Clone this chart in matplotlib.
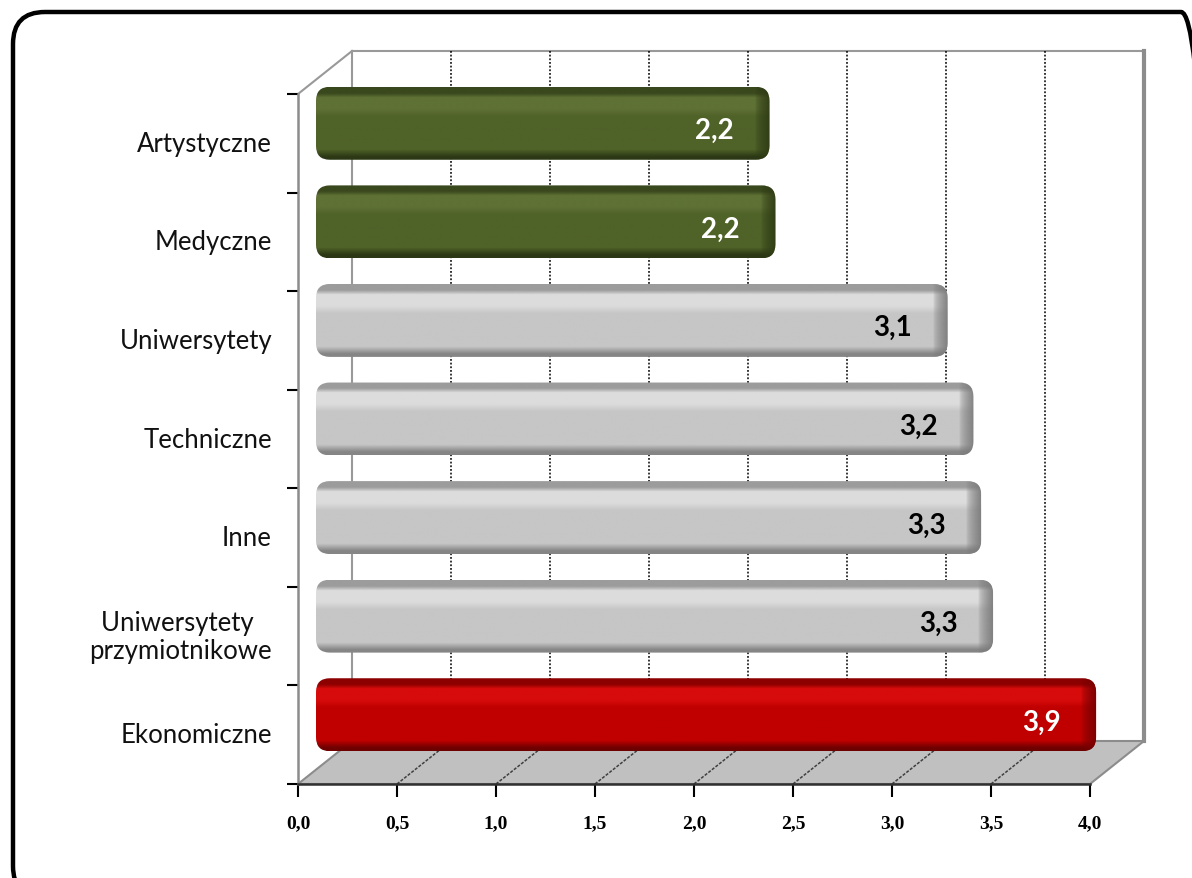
import numpy as np
import matplotlib
matplotlib.use("Agg")
import matplotlib.pyplot as plt
from matplotlib.patches import FancyBboxPatch, Polygon
from matplotlib.colors import to_rgb
import matplotlib.transforms as mtransforms

# data (top to bottom)
categories = ["Artystyczne", "Medyczne", "Uniwersytety", "Techniczne", "Inne",
              "Uniwersytety \nprzymiotnikowe", "Ekonomiczne"]
values = [2.21, 2.24, 3.11, 3.24, 3.28, 3.34, 3.86]
groups = ["green", "green", "gray", "gray", "gray", "gray", "red"]
xticks = [0.0, 0.5, 1.0, 1.5, 2.0, 2.5, 3.0, 3.5, 4.0]
title = "Typ uczelni"

# colour profiles: top-dark, light band, main, bottom-dark, cap
palette = {
    "green": ["#3a481d", "#5f7135", "#4f6228", "#2c3815", "#2f3b15"],
    "gray": ["#9c9c9c", "#dcdcdc", "#c6c6c6", "#858585", "#7a7a7a"],
    "red": ["#8c0000", "#d70b0b", "#c00000", "#6e0000", "#780000"],
}
label_color = {"green": "white", "gray": "black", "red": "white"}

W, H = 1192, 879
fig = plt.figure(figsize=(W / 100, H / 100), dpi=100)

# front plane of the 3D box in pixels
L, R, T, B = 298, 1090, 95, 785
ax = fig.add_axes([L / W, 1 - B / H, (R - L) / W, (B - T) / H])
n = len(categories)
ax.set_xlim(0, 4)
ax.set_ylim(n - 0.5, -0.5)
ax.set_autoscale_on(False)

px = (R - L) / 4.0       # pixels per x unit
py = (B - T) / n         # pixels per category
DX, DY = 54 / px, 43 / py  # depth of the box
bx0 = 18 / px             # bar front face start
boff = 20 / py            # bars sit higher than band centre
bh = 0.74
cap = 0.08

# outer rounded frame
frame = FancyBboxPatch((13, -20), 1200, 20 + H - 13,
                       boxstyle="round,pad=0,rounding_size=32",
                       transform=mtransforms.IdentityTransform(),
                       fc="none", ec="black", lw=3.2)
fig.patches.append(frame)
fig.text(595 / W, 1 + 4 / H, title, ha="center", va="baseline",
         fontsize=12, fontweight="bold", family="Lato")

# back wall
top_b, bot_b = -0.5 - DY, n - 0.5 - DY
ax.plot([DX, 4 + DX], [top_b, top_b], color="#999999", lw=1.5, clip_on=False, zorder=1)
ax.plot([DX, DX], [top_b, bot_b], color="#999999", lw=1.5, clip_on=False, zorder=1)
ax.plot([4 + DX, 4 + DX], [top_b, bot_b], color="#8c8c8c", lw=3, clip_on=False, zorder=1)
for x in xticks[1:-1]:
    ax.plot([x + DX, x + DX], [top_b, bot_b], color="black", lw=1.1,
            ls=(0, (1.2, 1.2)), clip_on=False, zorder=1)

# left wall top edge
ax.plot([0, DX], [-0.5, top_b], color="#999999", lw=1.5, clip_on=False, zorder=1)

# floor
floor = Polygon([(0, n - 0.5), (4, n - 0.5), (4 + DX, bot_b), (DX, bot_b)],
                closed=True, fc="#c0c0c0", ec="#8c8c8c", lw=1.5, clip_on=False, zorder=1)
ax.add_patch(floor)
for x in xticks[1:-1]:
    ax.plot([x, x + DX], [n - 0.5, bot_b], color="#404040", lw=1.1,
            ls=(0, (2, 1)), clip_on=False, zorder=1.5)


def profile(cols, stops, nrow=80):
    rgb = np.array([to_rgb(c) for c in cols])
    t = np.linspace(0, 1, nrow)
    return np.stack([np.interp(t, stops, rgb[:, k]) for k in range(3)], axis=1)


# bars
for i, (v, g) in enumerate(zip(values, groups)):
    c = palette[g]
    yc = i - boff
    y0, y1 = yc - bh / 2, yc + bh / 2
    x0, x1 = bx0, bx0 + v + cap
    patch = FancyBboxPatch((x0, y0), x1 - x0, bh,
                           boxstyle="round,pad=0,rounding_size=0.07",
                           mutation_aspect=px / py,
                           fc="none", ec="none", zorder=3, clip_on=False)
    ax.add_patch(patch)
    col = profile([c[0], c[0], c[1], c[1], c[2], c[2], c[3], c[3]],
                  [0, 0.08, 0.14, 0.3, 0.4, 0.86, 0.96, 1.0])
    img = np.repeat(col[:, None, :], 4, axis=1)
    im = ax.imshow(img, extent=(x0, x1, y1, y0), aspect="auto",
                   interpolation="bilinear", zorder=3)
    im.set_clip_box(fig.bbox)
    im.set_clip_path(patch)
    # darker rounded end cap
    capw = 0.075
    ov = np.zeros((2, 30, 4))
    ov[..., :3] = to_rgb(c[4])
    ov[..., 3] = np.linspace(0.0, 0.85, 30) ** 0.6
    im2 = ax.imshow(ov, extent=(x1 - capw, x1, y1, y0), aspect="auto",
                    interpolation="bilinear", zorder=3.1)
    im2.set_clip_box(fig.bbox)
    im2.set_clip_path(patch)
    ax.text(bx0 + v - 0.1, yc + 0.07, f"{v:.1f}".replace(".", ","),
            ha="right", va="center", fontsize=20, fontweight="bold",
            family="Lato", color=label_color[g], zorder=5)

ax.set_xlim(0, 4)
ax.set_ylim(n - 0.5, -0.5)

# category labels
for i, name in enumerate(categories):
    ax.text(-26 / px, i, name, ha="right", va="center", multialignment="center",
            fontsize=18.5, family="Lato", color="#111111", linespacing=1.15)

# axes decoration
for s in ["top", "right"]:
    ax.spines[s].set_visible(False)
ax.spines["left"].set_color("#8c8c8c")
ax.spines["left"].set_linewidth(1.8)
ax.spines["bottom"].set_color("#303030")
ax.spines["bottom"].set_linewidth(1.8)
ax.patch.set_alpha(0)
ax.set_xticks(xticks)
ax.set_xticklabels([f"{x:.1f}".replace(".", ",") for x in xticks])
for lab in ax.get_xticklabels():
    lab.set_family("Liberation Serif")
    lab.set_fontweight("bold")
    lab.set_fontsize(14)
ax.tick_params(axis="x", direction="out", length=9, width=1.5, pad=13)
ax.set_yticks(np.arange(-0.5, n, 1.0))
ax.set_yticklabels([])
ax.tick_params(axis="y", direction="out", length=8, width=1.5)

fig.savefig("out.png", dpi=100)
